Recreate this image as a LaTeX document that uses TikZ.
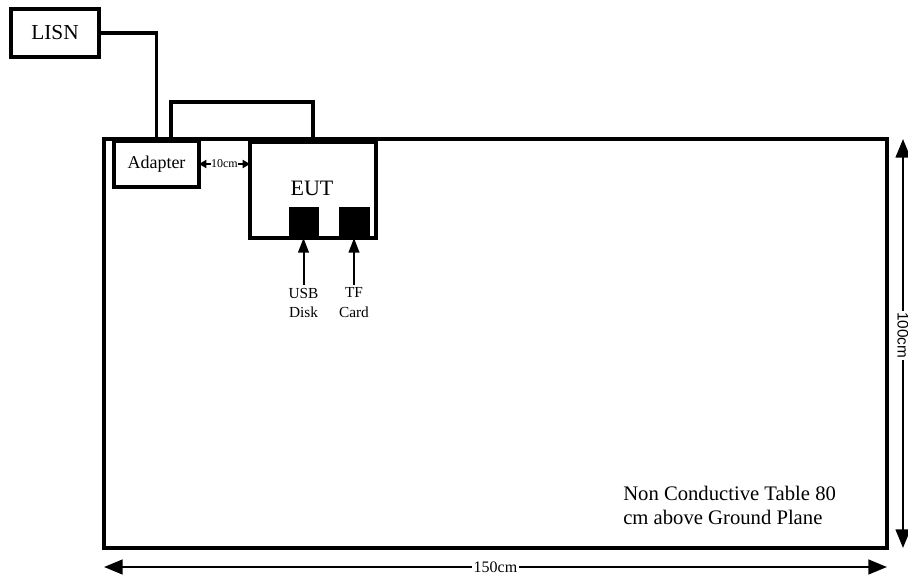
\documentclass[tikz,border=0pt]{standalone}
\usepackage{fontspec}
\setmainfont{Liberation Serif}
\newfontfamily\dimsans{Liberation Sans}
\usetikzlibrary{arrows.meta}
\begin{document}
\begin{tikzpicture}[x=0.75pt,y=-0.75pt,
  box/.style={draw,line width=2.3pt,inner sep=0pt,outer sep=0pt,rectangle},
  port/.style={fill=black,draw=black,inner sep=0pt,outer sep=0pt,rectangle},
  wire/.style={line width=2.3pt},
  dimline/.style={line width=1.8pt,{Triangle[length=14pt,width=11pt]}-{Triangle[length=14pt,width=11pt]}},
  smallarrow/.style={line width=1.5pt,{Triangle[length=5.5pt,width=6pt]}-{Triangle[length=5.5pt,width=6pt]}},
  uparrow/.style={line width=1.5pt,-{Triangle[length=11pt,width=8pt]}},
  lbl/.style={inner sep=0pt,align=center}]
\useasboundingbox (0,0) rectangle (908,581);
% nodes
\node[box,minimum width=88*0.75pt,minimum height=48*0.75pt,font=\fontsize{16}{18}\selectfont] (lisn) at (55,33) {LISN};
\node[box,minimum width=783*0.75pt,minimum height=409*0.75pt] (table) at (495.5,343.5) {};
\node[box,minimum width=85*0.75pt,minimum height=46*0.75pt,font=\fontsize{13.5}{15}\selectfont] (adapter) at (156.5,164) {Adapter};
\node[box,minimum width=126*0.75pt,minimum height=96*0.75pt] (eut) at (313,190) {};
\node[lbl,font=\fontsize{16.5}{18}\selectfont] (euttext) at (312,188) {EUT};
\node[port,minimum width=29*0.75pt,minimum height=31*0.75pt] (usb) at (303.5,222.5) {};
\node[port,minimum width=30*0.75pt,minimum height=31*0.75pt] (tf) at (354,222.5) {};
% wires
\coordinate (loop) at (171,102);
\draw[wire] (lisn.east) -| (adapter.north);
\draw[wire] (adapter.north -| loop) -- (loop) -| (eut.north);
% 10cm
\draw[smallarrow] (adapter.east) -- (eut.west |- adapter.east)
  node[midway,fill=white,inner sep=0.5pt,font=\fontsize{9}{10}\selectfont] (tencm) {10cm};
% port arrows
\coordinate (usbtail) at (303.5,285);
\coordinate (tftail) at (354,285);
\draw[uparrow] (usbtail) -- (usb.south);
\draw[uparrow] (tftail) -- (tf.south);
\node[lbl,anchor=north,font=\fontsize{11.5}{14.5}\selectfont] (usblbl) at ([yshift=-2pt]usbtail) {USB\\Disk};
\node[lbl,anchor=north,font=\fontsize{11.5}{14.5}\selectfont] (tflbl) at ([yshift=-2pt]tftail) {TF\\Card};
% dimensions
\coordinate (dimL) at (104,567);
\coordinate (dimR) at (887,567);
\draw[dimline] (dimL) -- (dimR)
  node[midway,fill=white,inner sep=1pt,font=\fontsize{12}{13}\selectfont] (w150) {150cm};
\coordinate (dimT) at (903,139);
\coordinate (dimB) at (903,548);
\draw[dimline] (dimT) -- (dimB)
  node[pos=0.48,fill=white,inner sep=1pt,rotate=-90,font=\dimsans\fontsize{11.5}{13}\selectfont] (h100) {100cm};
% note
\node[anchor=north west,align=left,inner sep=0pt,font=\fontsize{15.5}{18}\selectfont] (note) at (623,486)
  {Non Conductive Table 80\\cm above Ground Plane};
\end{tikzpicture}
\end{document}
